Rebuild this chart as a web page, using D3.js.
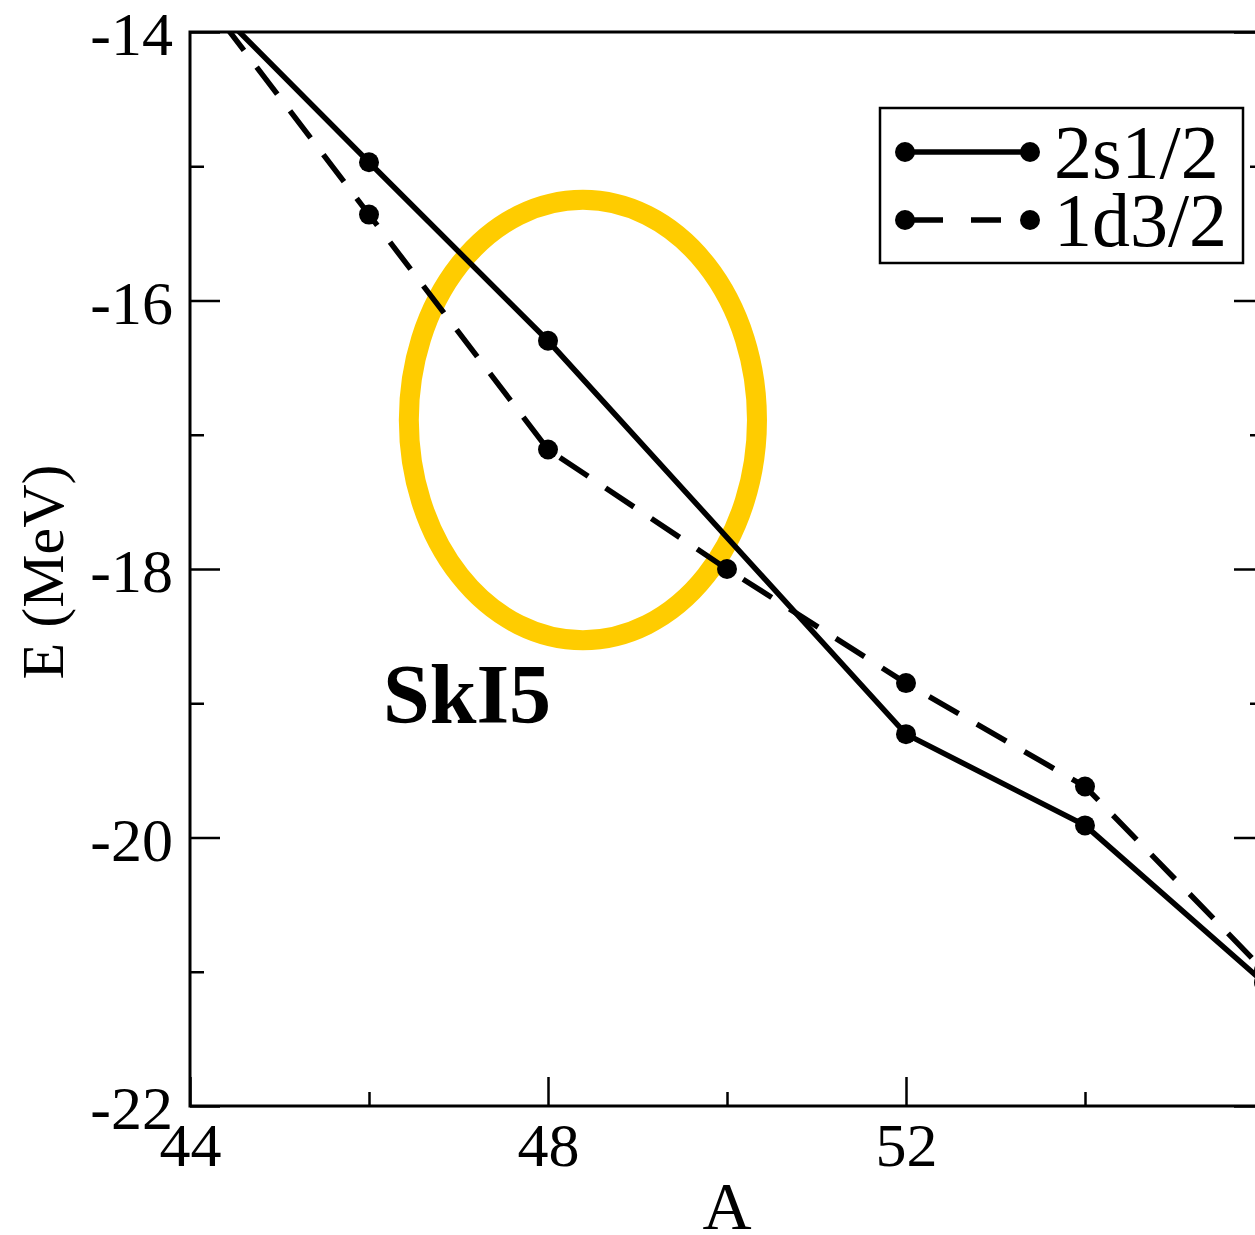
<!DOCTYPE html>
<html>
<head>
<meta charset="utf-8">
<script src="https://cdn.jsdelivr.net/npm/d3@7"></script>
<style>
  body { margin: 0; background: #fff; }
  svg { display: block; font-family: "Liberation Serif", "Times New Roman", serif; }
</style>
</head>
<body>
<div id="container"></div>
<script>
const width = 1255;
const height = 1235;

// plot frame (the right edge sits just past the picture, as in the original)
const plotLeft = 190, plotRight = 1264, plotTop = 32, plotBottom = 1106;

//-----------------------------DATA-----------------------------//
const massA2s = [44, 46, 48, 52, 54, 56];
const energy2s = [-13.63, -14.97, -16.30, -19.23, -19.91, -21.08];
const massA1d = [44, 46, 48, 50, 52, 54, 56];
const energy1d = [-13.61, -15.36, -17.11, -18.00, -18.85, -19.62, -20.99];

const xMajor = [44, 48, 52, 56];
const xLabels = [44, 48, 52];
const xMinor = [46, 50, 54];
const yMajor = [-22, -20, -18, -16, -14];
const yMinor = [-21, -19, -17, -15];

// highlight ellipse, in data units
const ringA = 48.39, ringE = -16.89, ringRA = 1.945, ringRE = 1.64;
const modelLabel = "SkI5";

const series = [
  { name: "2s1/2", dash: null, values: massA2s.map((a, i) => ({ a: a, e: energy2s[i] })) },
  { name: "1d3/2", dash: "34,21", values: massA1d.map((a, i) => ({ a: a, e: energy1d[i] })) }
];

//----------------------------SCALES----------------------------//
const x = d3.scaleLinear().domain([44, 56]).range([plotLeft, plotRight]);
const y = d3.scaleLinear().domain([-22, -14]).range([plotBottom, plotTop]);

const svg = d3.select("#container").append("svg")
  .attr("width", width)
  .attr("height", height);

svg.append("defs").append("clipPath").attr("id", "plot")
  .append("rect")
  .attr("x", plotLeft).attr("y", plotTop)
  .attr("width", plotRight - plotLeft).attr("height", plotBottom - plotTop);

//-----------------------------RING-----------------------------//
svg.append("ellipse")
  .attr("cx", x(ringA))
  .attr("cy", y(ringE))
  .attr("rx", x(ringA + ringRA) - x(ringA))
  .attr("ry", y(ringE - ringRE) - y(ringE))
  .attr("fill", "none")
  .attr("stroke", "#ffcc00")
  .attr("stroke-width", 20);

//-----------------------------AXES-----------------------------//
function styleAxis(g) {
  g.attr("font-family", null).attr("font-size", null);
  g.select(".domain").remove();
  g.selectAll(".tick line").attr("stroke", "#000").attr("stroke-width", 2.5);
  g.selectAll(".tick text").attr("fill", "#000").style("font-size", "62px");
}

svg.append("g")
  .attr("transform", "translate(0," + plotBottom + ")")
  .call(d3.axisBottom(x).tickValues(xMajor).tickSize(-29).tickFormat(""))
  .call(styleAxis);

svg.append("g")
  .attr("transform", "translate(0," + plotBottom + ")")
  .call(d3.axisBottom(x).tickValues(xLabels).tickSize(0).tickPadding(16).tickFormat(d3.format("d")))
  .call(styleAxis);

svg.append("g")
  .attr("transform", "translate(0," + plotBottom + ")")
  .call(d3.axisBottom(x).tickValues(xMinor).tickSize(-14).tickFormat(""))
  .call(styleAxis);

svg.append("g")
  .attr("transform", "translate(" + plotLeft + ",0)")
  .call(d3.axisLeft(y).tickValues(yMajor).tickSize(-30).tickPadding(17))
  .call(styleAxis)
  .call(g => g.selectAll(".tick text").attr("dy", "0.37em").text(d => "-" + Math.abs(d)));

svg.append("g")
  .attr("transform", "translate(" + plotLeft + ",0)")
  .call(d3.axisLeft(y).tickValues(yMinor).tickSize(-14).tickFormat(""))
  .call(styleAxis);

svg.append("g")
  .attr("transform", "translate(" + plotRight + ",0)")
  .call(d3.axisRight(y).tickValues(yMajor).tickSize(-30).tickFormat(""))
  .call(styleAxis);

svg.append("g")
  .attr("transform", "translate(" + plotRight + ",0)")
  .call(d3.axisRight(y).tickValues(yMinor).tickSize(-14).tickFormat(""))
  .call(styleAxis);

svg.append("rect")
  .attr("x", plotLeft).attr("y", plotTop)
  .attr("width", plotRight - plotLeft).attr("height", plotBottom - plotTop)
  .attr("fill", "none")
  .attr("stroke", "#000")
  .attr("stroke-width", 3);

svg.append("text")
  .attr("x", 727)
  .attr("y", 1229)
  .attr("text-anchor", "middle")
  .style("font-size", "68px")
  .text("A");

svg.append("text")
  .attr("transform", "translate(63," + ((plotTop + plotBottom) / 2 + 3) + ") rotate(-90)")
  .attr("text-anchor", "middle")
  .style("font-size", "60px")
  .text("E (MeV)");

//----------------------------LINES-----------------------------//
const line = d3.line()
  .x(d => x(d.a))
  .y(d => y(d.e));

const lines = svg.append("g").attr("clip-path", "url(#plot)");

lines.selectAll("path")
  .data(series)
  .enter()
  .append("path")
  .attr("d", d => line(d.values))
  .attr("fill", "none")
  .attr("stroke", "#000")
  .attr("stroke-width", 5.5)
  .attr("stroke-dasharray", d => d.dash);

series.forEach(s => {
  lines.selectAll(null)
    .data(s.values)
    .enter()
    .append("circle")
    .attr("cx", d => x(d.a))
    .attr("cy", d => y(d.e))
    .attr("r", 10)
    .attr("fill", "#000");
});

svg.append("text")
  .attr("x", 383)
  .attr("y", 723)
  .style("font-size", "84px")
  .style("font-weight", "bold")
  .text(modelLabel);

//----------------------------LEGEND----------------------------//
const legend = svg.append("g");

legend.append("rect")
  .attr("x", 880).attr("y", 108)
  .attr("width", 363).attr("height", 155)
  .attr("fill", "#fff")
  .attr("stroke", "#000")
  .attr("stroke-width", 2.5);

const rows = legend.selectAll("g.row")
  .data(series)
  .enter()
  .append("g")
  .attr("class", "row")
  .attr("transform", (d, i) => "translate(0," + (152 + i * 68) + ")");

rows.append("line")
  .attr("x1", 905).attr("x2", 1030)
  .attr("stroke", "#000")
  .attr("stroke-width", 5.5)
  .attr("stroke-dasharray", d => d.dash ? "0,8,30,20" : null);

rows.selectAll("circle")
  .data([905, 1030])
  .enter()
  .append("circle")
  .attr("cx", d => d)
  .attr("r", 10)
  .attr("fill", "#000");

rows.append("text")
  .attr("x", 1054)
  .attr("y", 26)
  .style("font-size", "76px")
  .text(d => d.name);
</script>
</body>
</html>
